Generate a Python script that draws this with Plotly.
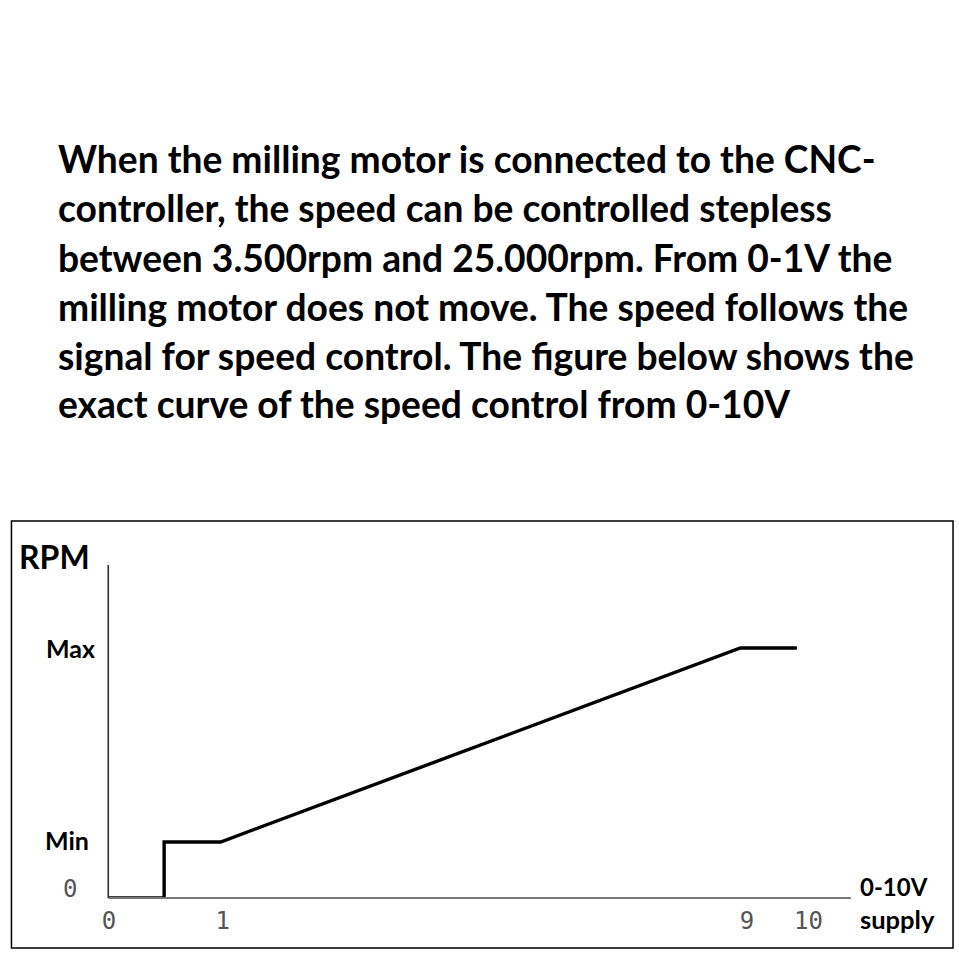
import plotly.graph_objects as go

W = H = 959

# Paragraph text
text_lines = [
    "When the milling motor is connected to the CNC-",
    "controller, the speed can be controlled stepless",
    "between 3.500rpm and 25.000rpm. From 0-1V the",
    "milling motor does not move. The speed follows the",
    "signal for speed control. The figure below shows the",
    "exact curve of the speed control from 0-10V",
]

# Schematic curve (voltage-like x positions, schematic rpm levels)
curve_x = [-0.72, 0.13, 0.13, 1.0, 9.0, 9.87]
curve_y = [0, 0, 56, 56, 250, 250]

x_tick_vals = [-0.72, 1.03, 9.1, 10.05]
x_tick_text = ["0", "1", "9", "10"]

y_labels = ["0", "Min", "Max"]

def px(x):
    return x / W

def py(y):
    return 1 - y / H

fig = go.Figure()
fig.add_trace(go.Scatter(x=curve_x, y=curve_y, mode="lines",
                         line=dict(color="black", width=3.4), hoverinfo="skip",
                         showlegend=False))

x0, x1 = 102, 850
y0, y1 = 898, 565
fig.update_layout(
    width=W, height=H, margin=dict(l=0, r=0, t=0, b=0),
    paper_bgcolor="white", plot_bgcolor="white",
    xaxis=dict(domain=[px(x0), px(x1)], range=[-0.73, 10.7], showgrid=False,
               zeroline=False, showline=False, tickmode="array",
               tickvals=x_tick_vals, ticktext=x_tick_text, ticks="",
               tickfont=dict(family="DejaVu Sans Mono", size=24, color="#555"),
               ticklabelstandoff=6),
    yaxis=dict(domain=[py(y0), py(y1)], range=[0, 333], showgrid=False,
               zeroline=False, showline=False, showticklabels=False, ticks=""),
)

# axes lines
fig.add_shape(type="line", xref="paper", yref="paper", x0=px(102), x1=px(850),
              y0=py(898), y1=py(898), line=dict(color="#777", width=2.2))
fig.add_shape(type="line", xref="paper", yref="paper", x0=px(102), x1=px(102),
              y0=py(898), y1=py(565), line=dict(color="#333", width=1.6))

# outer box
fig.add_shape(type="rect", xref="paper", yref="paper", x0=px(4.5), x1=px(953),
              y0=py(521), y1=py(948), line=dict(color="black", width=1.5))

line_y = [158, 208, 257, 306, 355, 404]
for t, yy in zip(text_lines, line_y):
    fig.add_annotation(x=px(49), y=py(yy), xref="paper", yref="paper",
                       text="<b>" + t + "</b>", showarrow=False,
                       xanchor="left", yanchor="middle",
                       font=dict(family="Lato", size=37.2, color="black"))

# y labels
ylab_pos = {"0": (63, 889), "Min": (60.5, 840), "Max": (64, 648)}
for lab in y_labels:
    xx, yy = ylab_pos[lab]
    if lab == "0":
        fig.add_annotation(x=px(xx), y=py(yy), xref="paper", yref="paper",
                           text=lab, showarrow=False, xanchor="center", yanchor="middle",
                           font=dict(family="DejaVu Sans Mono", size=24, color="#555"))
    else:
        fig.add_annotation(x=px(xx), y=py(yy), xref="paper", yref="paper",
                           text="<b>" + lab + "</b>", showarrow=False, xanchor="center",
                           yanchor="middle",
                           font=dict(family="Lato", size=25, color="black"))

fig.add_annotation(x=px(10), y=py(556), xref="paper", yref="paper",
                   text="<b>RPM</b>", showarrow=False, xanchor="left", yanchor="middle",
                   font=dict(family="Lato", size=32, color="black"))
fig.add_annotation(x=px(857), y=py(886), xref="paper", yref="paper",
                   text="<b>0-10V</b>", showarrow=False, xanchor="left", yanchor="middle",
                   font=dict(family="Lato", size=24, color="black"))
fig.add_annotation(x=px(857), y=py(919), xref="paper", yref="paper",
                   text="<b>supply</b>", showarrow=False, xanchor="left", yanchor="middle",
                   font=dict(family="Lato", size=25.5, color="black"))

fig.write_html("out.html")
